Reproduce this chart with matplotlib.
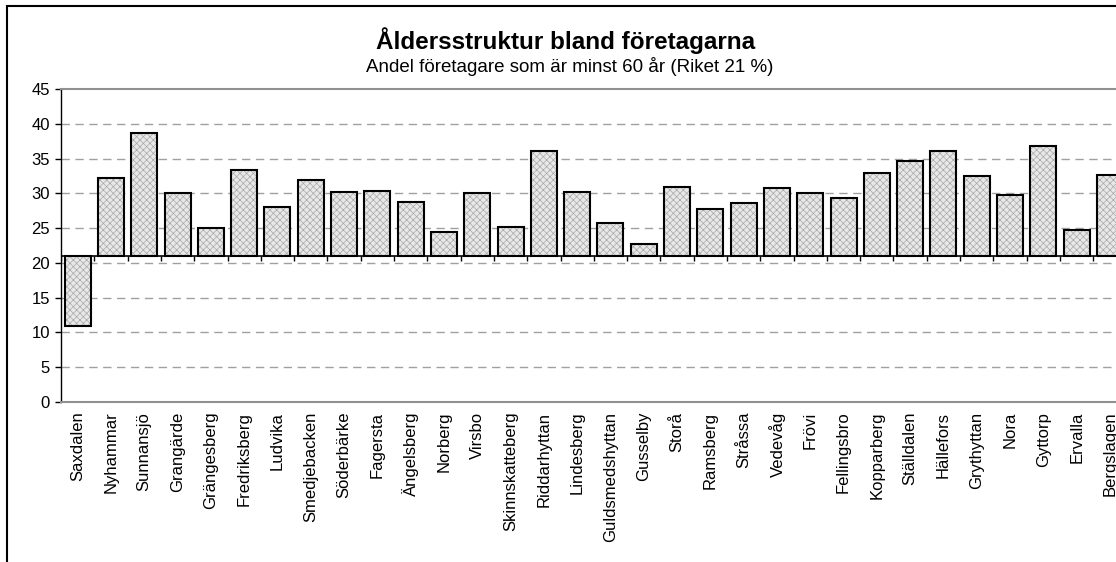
import matplotlib
matplotlib.use("Agg")
import matplotlib.pyplot as plt
from matplotlib.patches import Rectangle
import numpy as np

plt.rcParams['font.family'] = ['Liberation Sans', 'DejaVu Sans']

categories = ["Saxdalen", "Nyhammar", "Sunnansjö", "Grangärde", "Grängesberg",
              "Fredriksberg", "Ludvika", "Smedjebacken", "Söderbärke", "Fagersta",
              "Ängelsberg", "Norberg", "Virsbo", "Skinnskatteberg", "Riddarhyttan",
              "Lindesberg", "Guldsmedshyttan", "Gusselby", "Storå", "Ramsberg",
              "Stråssa", "Vedevåg", "Frövi", "Fellingsbro", "Kopparberg",
              "Ställdalen", "Hällefors", "Grythyttan", "Nora", "Gyttorp",
              "Ervalla", "Bergslagen"]
values = [10.9, 32.2, 38.7, 30.0, 25.0,
          33.3, 28.1, 31.9, 30.2, 30.4,
          28.8, 24.5, 30.0, 25.2, 36.1,
          30.2, 25.7, 22.7, 30.9, 27.7,
          28.6, 30.7, 30.0, 29.3, 32.9,
          34.6, 36.1, 32.5, 29.8, 36.8,
          24.8, 32.7]
riket = 21.0
yticks = [0, 5, 10, 15, 20, 25, 30, 35, 40, 45]

W, H = 1116, 562
fig = plt.figure(figsize=(W / 100, H / 100), dpi=100)

x0, spacing = 61.0, 33.3
n = len(categories)
left = x0 / W
width = n * spacing / W
bottom = (H - 402) / H
height = (402 - 89) / H
ax = fig.add_axes([left, bottom, width, height])

x = np.arange(n)
vals = np.array(values)
plt.rcParams['hatch.linewidth'] = 0.5
ax.bar(x, vals - riket, bottom=riket, width=0.78, color='#e8e8e8',
       edgecolor='#a8a8a8', linewidth=0, hatch='xxxxx', zorder=3)
ax.bar(x, vals - riket, bottom=riket, width=0.78, fill=False,
       edgecolor='black', linewidth=1.5, zorder=4)

ax.set_xlim(-0.5, n - 0.5)
ax.set_ylim(0, 45)
ax.set_yticks(yticks)
ax.tick_params(axis='y', direction='out', length=4, width=1, labelsize=12, pad=4)
ax.set_xticks(x)
ax.set_xticklabels(categories, rotation=90, fontsize=12)
ax.tick_params(axis='x', length=0, pad=7)

for g in yticks[1:-1]:
    ax.axhline(g, color='#a0a0a0', linestyle=(0, (6, 4)), linewidth=1, zorder=1)

# category axis crossing at Riket value
ax.axhline(riket, color='black', linewidth=1.2, zorder=5)
ax.vlines(np.arange(n + 1) - 0.5, riket - 0.75, riket, color='black', linewidth=1, zorder=5)

for s in ['top', 'bottom']:
    ax.spines[s].set_color('#909090')
    ax.spines[s].set_linewidth(1.5)
ax.spines['right'].set_visible(False)
ax.spines['left'].set_color('black')
ax.spines['left'].set_linewidth(1)

fig.text(566 / W, 1 - 41 / H, "Åldersstruktur bland företagarna", ha='center', va='center',
         fontsize=17.5, fontweight='bold')
fig.text(570 / W, 1 - 66 / H, "Andel företagare som är minst 60 år (Riket 21 %)", ha='center',
         va='center', fontsize=13.5)

fig.patches.append(Rectangle((7 / W, -0.2), 2.0, 1 - 6 / H + 0.2, transform=fig.transFigure,
                             fill=False, edgecolor='black', linewidth=1.5))

fig.savefig("out.png", dpi=100)
